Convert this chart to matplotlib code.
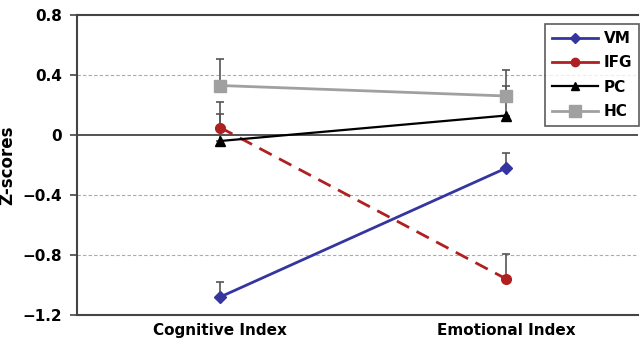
import numpy as np
import matplotlib.pyplot as plt
from matplotlib.lines import Line2D

plt.rcParams['font.family'] = ['DejaVu Sans']
plt.rcParams['font.weight'] = 'bold'

categories = ['Cognitive Index', 'Emotional Index']
series = ['VM', 'IFG', 'PC', 'HC']
values = {
    'VM': [-1.08, -0.22],
    'IFG': [0.05, -0.96],
    'PC': [-0.04, 0.13],
    'HC': [0.33, 0.26],
}
errors = {
    'VM': [0.10, 0.10],
    'IFG': [0.17, 0.17],
    'PC': [0.18, 0.20],
    'HC': [0.18, 0.17],
}
colors = {'VM': '#3535a0', 'IFG': '#b02020', 'PC': '#000000', 'HC': '#a0a0a0'}
markers = {'VM': 'D', 'IFG': 'o', 'PC': '^', 'HC': 's'}
styles = {'VM': '-', 'IFG': '--', 'PC': '-', 'HC': '-'}
msizes = {'VM': 6, 'IFG': 7, 'PC': 7, 'HC': 9}

fig = plt.figure(figsize=(6.41, 3.43), dpi=100)
ax = fig.add_axes([77 / 641, 1 - 315 / 343, 561 / 641, 300 / 343])

x = np.arange(len(categories))
handles = []
for s in series:
    y = np.array(values[s])
    lw = 1.6 if s == 'PC' else 2
    dash = (5, 3) if s == 'IFG' else (None, None)
    ax.errorbar(x, y, yerr=[np.zeros_like(y), errors[s]], color=colors[s],
                ecolor='#555555', elinewidth=1.2, capsize=3, capthick=1.2,
                marker=markers[s], markersize=msizes[s], linestyle=styles[s],
                linewidth=lw, dashes=dash)
    handles.append(Line2D([], [], color=colors[s], marker=markers[s],
                          markersize=msizes[s] - 1, linewidth=lw, label=s))

for g in [0.4, -0.4, -0.8]:
    ax.axhline(g, color='#aaaaaa', linestyle=(0, (3, 2)), linewidth=0.8, zorder=0)
ax.axhline(0, color='#444444', linewidth=1.3, zorder=0)

ax.set_xlim(-0.5, 1.46)
ax.set_ylim(-1.2, 0.8)
ax.set_yticks([0.8, 0.4, 0, -0.4, -0.8, -1.2])
ax.set_yticklabels(['0.8', '0.4', '0', '\u22120.4', '\u22120.8', '\u22121.2'])
ax.set_xticks(x)
ax.set_xticklabels(categories)
ax.tick_params(axis='both', labelsize=11, length=0, pad=6)
ax.tick_params(axis='y', length=5, direction='out', width=1.2, color='#444444')
ax.set_ylabel('Z-scores', fontsize=12, fontweight='bold', labelpad=4)
ax.spines['right'].set_visible(False)
for sp in ['left', 'bottom', 'top']:
    ax.spines[sp].set_color('#444444')
    ax.spines[sp].set_linewidth(1.5)

leg = ax.legend(handles=handles, loc='upper right',
                bbox_to_anchor=((639 - 77) / 561, 1 - 9 / 300),
                frameon=True, fancybox=False, fontsize=11, handlelength=3.0,
                borderpad=0.45, labelspacing=0.62, handletextpad=0.4,
                borderaxespad=0)
leg.get_frame().set_edgecolor('#333333')
leg.get_frame().set_linewidth(1.2)

fig.savefig('out.png', dpi=100)
